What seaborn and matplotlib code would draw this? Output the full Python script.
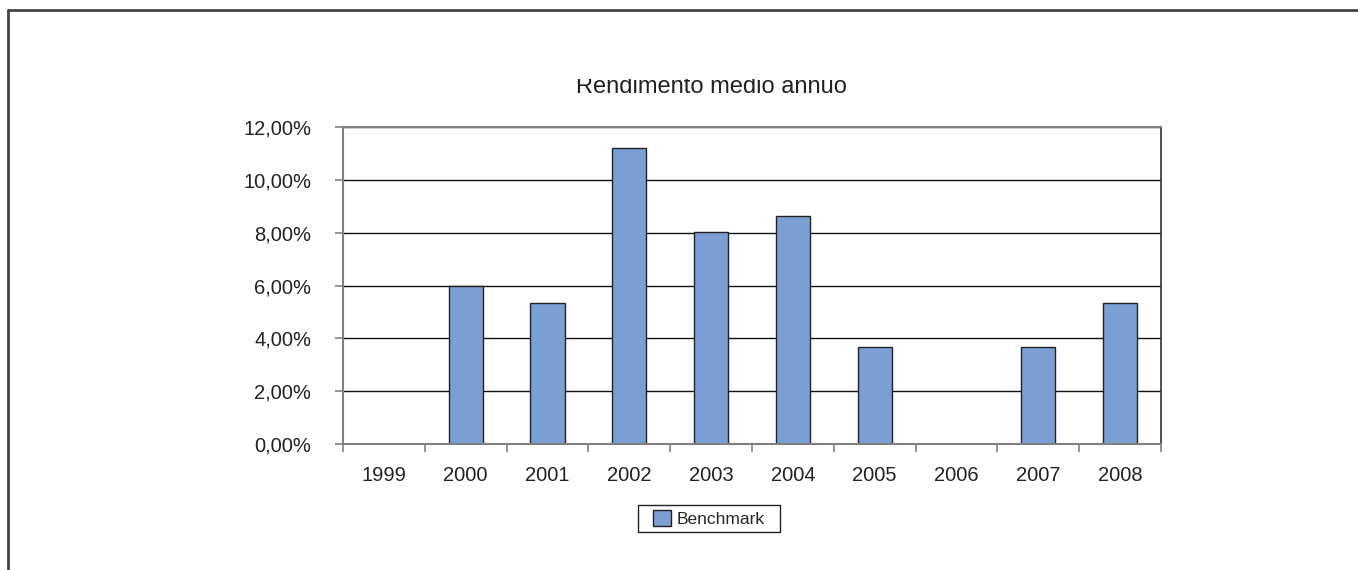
import matplotlib
matplotlib.use('Agg')
import matplotlib.pyplot as plt
import seaborn as sns
from matplotlib.ticker import FuncFormatter, FixedLocator
from matplotlib.transforms import Bbox, TransformedBbox
from matplotlib.lines import Line2D
from matplotlib.patches import Rectangle

# Data (annual return, %)
years = ['1999', '2000', '2001', '2002', '2003', '2004', '2005', '2006', '2007', '2008']
benchmark = [0.0, 6.00, 5.32, 11.19, 8.03, 8.63, 3.66, 0.0, 3.66, 5.32]
y_ticks = [0, 2, 4, 6, 8, 10, 12]

sns.set_style('white')
plt.rcParams['font.family'] = ['Liberation Sans', 'DejaVu Sans']

fig = plt.figure(figsize=(13.58, 5.70), dpi=100)
ax = fig.add_axes([343 / 1358, 1 - 444 / 570, (1161 - 343) / 1358, (444 - 127) / 570])

sns.barplot(x=years, y=benchmark, ax=ax, color='#7B9FD3', edgecolor='#222222',
            linewidth=1, width=0.42, saturation=1, label='Benchmark')
if ax.get_legend() is not None:
    ax.get_legend().remove()

ax.set_ylim(0, 12)
ax.set_xlim(-0.5, len(years) - 0.5)
ax.set_yticks(y_ticks)
ax.yaxis.set_major_formatter(FuncFormatter(lambda v, p: f'{v:.2f}%'.replace('.', ',')))
ax.yaxis.grid(True, color='#111111', linewidth=1)
ax.set_axisbelow(True)
ax.set_xlabel('')
ax.set_ylabel('')

# x ticks: labels at category centres, tick marks at category boundaries
ax.tick_params(axis='x', which='major', bottom=True, length=0, pad=16,
               labelsize=14.5, labelcolor='#222222')
ax.xaxis.set_minor_locator(FixedLocator([i - 0.5 for i in range(len(years) + 1)]))
ax.tick_params(axis='x', which='minor', bottom=True, length=5.8, width=1.2,
               color='#808080', direction='out')
ax.tick_params(axis='y', left=True, length=5.8, width=1.2, color='#808080', direction='out',
               pad=17, labelsize=14.5, labelcolor='#222222')

for side in ['left', 'bottom', 'top']:
    ax.spines[side].set_color('#808080')
    ax.spines[side].set_linewidth(1.5)
ax.spines['right'].set_color('#333333')
ax.spines['right'].set_linewidth(1.2)

# title, clipped at its top like in the reference
t = fig.text(711.5 / 1358, 1 - 93 / 570, 'Rendimento medio annuo', ha='center', va='baseline',
             fontsize=17, color='#222222')
t.set_clip_box(TransformedBbox(Bbox([[0, 0], [1, 1 - 79 / 570]]), fig.transFigure))
t.set_clip_on(True)

handles, labels = ax.get_legend_handles_labels()
fig.legend(handles[:1], labels[:1], loc='center', bbox_to_anchor=(709 / 1358, 1 - 518.5 / 570),
           fontsize=12.5, frameon=False, handlelength=1.05, handleheight=1.05,
           handletextpad=0.3, borderpad=0, borderaxespad=0)
# legend box
fig.add_artist(Rectangle((638 / 1358, 1 - 532 / 570), 142 / 1358, 27 / 570,
                         transform=fig.transFigure, fill=False, edgecolor='#222222', linewidth=1))

# outer chart frame (top and left edges visible)
fig.add_artist(Line2D([8 / 1358, 1.0], [1 - 10 / 570, 1 - 10 / 570], transform=fig.transFigure,
                      color='#444444', linewidth=2))
fig.add_artist(Line2D([8 / 1358, 8 / 1358], [0.0, 1 - 10 / 570], transform=fig.transFigure,
                      color='#444444', linewidth=2))

fig.savefig('out.png', dpi=100)
